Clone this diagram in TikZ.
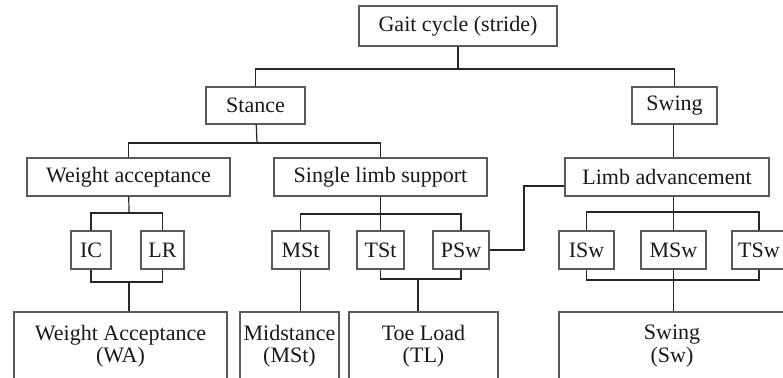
\documentclass[tikz,border=0pt]{standalone}
\usepackage{fontspec}
\setmainfont{Liberation Serif}
\usepackage{tikz}
\usetikzlibrary{positioning}
\tikzset{
  box/.style={draw=black!65, line width=1.3pt, inner sep=0pt, text=black!90,
    font=\fontsize{22}{22.5}\selectfont, align=center},
  link/.style={draw=black!85, line width=1.2pt},
}

\begin{document}
\begin{tikzpicture}[x=1pt, y=-1pt]

  \newcommand\YA{26};
  \newcommand\YB{105.5};
  \newcommand\YC{177};
  \newcommand\YD{250};
  \newcommand\YE{346};

  \useasboundingbox (0,0) rectangle (783,377);

  % top of the tree
  \node[box, minimum width=198pt, minimum height=40pt] (gait) at (458,\YA) {Gait cycle (stride)};
  \node[box, minimum width=99pt, minimum height=37pt] (stance) at (255.5,\YB) {Stance};
  \node[box, minimum width=85pt, minimum height=37pt] (swing) at (674.5,\YB) {Swing};

  % tasks
  \node[box, minimum width=203pt, minimum height=38pt] (wacc) at (128.5,\YC) {Weight acceptance};
  \node[box, minimum width=213pt, minimum height=38pt] (sls) at (380.5,\YC) {Single limb support};
  \node[box, minimum width=204pt, minimum height=38pt] (limbadv) at (667,\YC) {Limb advancement};

  % phases
  \node[box, minimum width=40pt, minimum height=38pt] (ic) at (91,\YD) {IC};
  \node[box, minimum width=43pt, minimum height=38pt] (lr) at (162.5,\YD) {LR};
  \node[box, minimum width=57pt, minimum height=38pt] (mst) at (300.5,\YD) {MSt};
  \node[box, minimum width=47pt, minimum height=38pt] (tst) at (380.5,\YD) {TSt};
  \node[box, minimum width=56pt, minimum height=38pt] (psw) at (461,\YD) {PSw};
  \node[box, minimum width=55pt, minimum height=38pt] (isw) at (586.5,\YD) {ISw};
  \node[box, minimum width=65pt, minimum height=38pt] (msw) at (673.5,\YD) {MSw};
  \node[box, minimum width=54pt, minimum height=38pt] (tsw) at (759,\YD) {TSw};

  % groups at the bottom (cut by the page edge)
  \node[box, minimum width=213pt, minimum height=68pt] (wa) at (120.5,\YE) {Weight Acceptance\\(WA)};
  \node[box, minimum width=99pt, minimum height=68pt] (midst) at (289.5,\YE) {Midstance\\(MSt)};
  \node[box, minimum width=149pt, minimum height=68pt] (tl) at (423.5,\YE) {Toe Load\\(TL)};
  \node[box, minimum width=226pt, minimum height=68pt] (sw) at (672,\YE) {Swing\\(Sw)};

  \coordinate (j1) at (458,69);
  \coordinate (j2) at (257,143);
  \coordinate (j3) at (129,213);
  \coordinate (j4) at (129,282);
  \coordinate (j5) at (380.5,214);
  \coordinate (j6) at (418,279);
  \coordinate (j7) at (673.5,212);
  \coordinate (j8) at (673.5,280);
  \coordinate (elbow) at (524,250);

  \draw[link] (gait) -- (j1);
  \draw[link, line width=1.8pt] (stance) |- (j1) -| (swing);

  \draw[link] (stance) -- (j2);
  \draw[link] (wacc) |- (j2) -| (sls);
  \draw[link] (swing.south -| msw.north) -- (limbadv.north -| msw.north);

  \draw[link] (wacc) -- (j3);
  \draw[link] (ic) |- (j3) -| (lr);
  \draw[link] (ic) |- (j4) -| (lr);
  \draw[link] (j4) -- (j4 |- wa.north);

  \draw[link] (sls) -- (tst);
  \draw[link] (mst) |- (j5) -| (psw);
  \draw[link] (mst.south) -- (mst.south |- midst.north);
  \draw[link] (tst) |- (j6) -| (psw);
  \draw[link] (j6) -- (j6 |- tl.north);

  \draw[link] (psw.east) -- (elbow) |- ([yshift=-9pt]limbadv.west);

  \draw[link] (limbadv.south -| msw.north) -- (msw.north);
  \draw[link] (isw) |- (j7) -| (tsw);
  \draw[link] (isw) |- (j8) -| (tsw);
  \draw[link] (msw.south) -- (msw.south |- sw.north);

\end{tikzpicture}
\end{document}
